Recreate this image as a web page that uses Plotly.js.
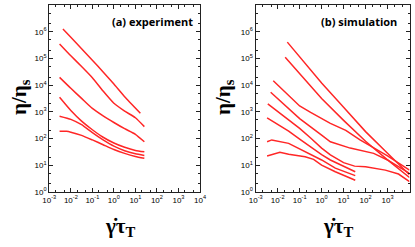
<!DOCTYPE html>
<html><head><meta charset="utf-8">
<script src="https://cdn.plot.ly/plotly-3.0.1.min.js"></script>
<style>html,body{margin:0;padding:0;background:#fff}#chart{width:415px;height:247px}</style>
</head><body><div id="chart"></div>
<script>
// ---- data: (a) experiment ----
const expX1 = [0.0043, 0.01, 0.0316, 0.1, 0.316, 1, 3.16, 17];
const expY1 = [1.26e6, 6.2e5, 2.3e5, 8.6e4, 3.1e4, 1.1e4, 3.7e3, 890];
const expX2 = [0.003, 0.01, 0.0316, 0.1, 0.316, 1, 3.16, 10, 26];
const expY2 = [3.5e5, 1.26e5, 5.0e4, 1.9e4, 6.0e3, 2.1e3, 1.07e3, 600, 280];
const expX3 = [0.003, 0.01, 0.0316, 0.1, 0.316, 1, 3.16, 10, 26];
const expY3 = [1.95e4, 7.6e3, 3.2e3, 1.35e3, 710, 400, 234, 145, 76];
const expX4 = [0.003, 0.01, 0.0316, 0.1, 0.316, 1, 3.16, 10, 26];
const expY4 = [3.5e3, 1.12e3, 450, 214, 112, 68, 47, 36, 32];
const expX5 = [0.003, 0.01, 0.0316, 0.1, 0.316, 1, 3.16, 10, 26];
const expY5 = [690, 525, 330, 166, 89, 52, 35, 27, 23.4];
const expX6 = [0.003, 0.0063, 0.01, 0.0316, 0.1, 0.316, 1, 3.16, 10, 26];
const expY6 = [186, 186, 174, 132, 89, 59, 39, 28, 21.4, 18.2];

// ---- data: (b) simulation ----
const simXA = [0.0275, 0.1, 1, 10, 100, 1000, 10000];
const simYA = [4.07e5, 1.17e5, 1.2e4, 1480, 182, 28, 4.4];
const simXB = [0.022, 0.1, 1, 10, 100, 1000, 10000];
const simYB = [1.1e5, 2.7e4, 3.16e3, 480, 79, 16, 3.5];
const simXC = [0.0063, 0.0316, 0.1, 0.316, 2.5, 12.6, 56, 1000, 10000];
const simYC = [1.45e4, 4.2e3, 1.66e3, 955, 372, 204, 89, 22.4, 6.6];
const simXD = [0.0048, 0.1, 1, 2.5, 20, 234, 1000, 10000];
const simYD = [5.4e3, 560, 135, 76, 44, 28, 15.8, 5.0];
const simXE = [0.00355, 0.0316, 0.1, 0.316, 1, 2.5, 10, 31.6, 100, 794, 3160, 10000];
const simYE = [2000, 500, 240, 105, 44, 24.5, 12.6, 9.3, 8.9, 6.6, 4.7, 2.45];
const simXF = [0.0033, 0.0316, 0.1, 0.316, 1, 2.5, 10, 34];
const simYF = [600, 190, 95, 48, 25, 15.8, 8.9, 5.75];
const simXG = [0.0033, 0.0054, 0.0316, 0.178, 1, 4.2, 34];
const simYG = [76, 89, 66, 32, 15.8, 7.8, 4.1];
const simXH = [0.0033, 0.0126, 0.0316, 0.178, 0.43, 1, 4.2, 34];
const simYH = [22.4, 31, 26, 21, 16.6, 10.2, 5.75, 2.75];

// ---- tick labels ----
const xTickVals = [1e-3, 1e-2, 1e-1, 1, 10, 100, 1000, 10000];
const xTickText = ['10<sup>-3</sup>','10<sup>-2</sup>','10<sup>-1</sup>','10<sup>0</sup>','10<sup>1</sup>','10<sup>2</sup>','10<sup>3</sup>','10<sup>4</sup>'];
const yTickVals = [1, 10, 100, 1e3, 1e4, 1e5, 1e6, 1e7];
const yTickText = ['10<sup>0</sup>','10<sup>1</sup>','10<sup>2</sup>','10<sup>3</sup>','10<sup>4</sup>','10<sup>5</sup>','10<sup>6</sup>','10<sup>7</sup>'];

const RED = 'rgb(255,38,38)';
function tr(x, y, xa, ya, shape) {
  return {x: x, y: y, xaxis: xa, yaxis: ya, mode: 'lines', type: 'scatter',
          line: {color: RED, width: 1.5, shape: shape, smoothing: 0.5}, hoverinfo: 'skip', showlegend: false};
}
const data = [
  tr(expX1, expY1, 'x', 'y', 'spline'), tr(expX2, expY2, 'x', 'y', 'spline'),
  tr(expX3, expY3, 'x', 'y', 'spline'), tr(expX4, expY4, 'x', 'y', 'spline'),
  tr(expX5, expY5, 'x', 'y', 'spline'), tr(expX6, expY6, 'x', 'y', 'spline'),
  tr(simXA, simYA, 'x2', 'y2', 'linear'), tr(simXB, simYB, 'x2', 'y2', 'linear'),
  tr(simXC, simYC, 'x2', 'y2', 'linear'), tr(simXD, simYD, 'x2', 'y2', 'linear'),
  tr(simXE, simYE, 'x2', 'y2', 'linear'), tr(simXF, simYF, 'x2', 'y2', 'linear'),
  tr(simXG, simYG, 'x2', 'y2', 'linear'), tr(simXH, simYH, 'x2', 'y2', 'linear')
];

function minorVals(lo, hi) {
  const v = [];
  for (let e = lo; e < hi; e++) { v.push(2 * Math.pow(10, e)); v.push(5 * Math.pow(10, e)); }
  return v;
}
const tickFont = {family: 'Liberation Sans, Arial, sans-serif', size: 8, color: '#000'};
function axis(domain, vals, text, range, anchor, minor) {
  return {type: 'log', domain: domain, range: range, anchor: anchor,
    tickmode: 'array', tickvals: vals, ticktext: text, tickfont: tickFont,
    ticks: 'inside', ticklen: 4, tickwidth: 1, tickcolor: '#222',
    minor: {tickmode: 'array', tickvals: minor, ticks: 'inside', ticklen: 2, tickwidth: 1, tickcolor: '#222'},
    showline: true, linecolor: '#222', linewidth: 1.2, mirror: 'allticks',
    showgrid: false, zeroline: false, automargin: false};
}
const ydom = [1 - 192/247, 1 - 5/247];
const labelFont = {family: 'Open Sans, sans-serif', size: 11, color: '#000'};
const titleFont = {family: 'Liberation Serif, serif', size: 21, color: '#000'};
const layout = {
  width: 415, height: 247, margin: {l: 0, r: 0, t: 0, b: 0},
  paper_bgcolor: '#fff', plot_bgcolor: '#fff',
  xaxis: axis([49.3/415, 200/415], xTickVals, xTickText, [-3, 4], 'y', minorVals(-3, 4)),
  yaxis: axis(ydom, yTickVals, yTickText, [0, 7], 'x', minorVals(0, 7)),
  xaxis2: axis([255.7/415, 409.5/415], xTickVals, xTickText, [-3, 4], 'y2', minorVals(-3, 4)),
  yaxis2: axis(ydom, yTickVals, yTickText, [0, 7], 'x2', minorVals(0, 7)),
  annotations: [
    {text: '<b>(a) experiment</b>', xref: 'paper', yref: 'paper', x: 195/415, y: 1 - 22/247,
     xanchor: 'right', yanchor: 'middle', showarrow: false, font: labelFont},
    {text: '<b>(b) simulation</b>', xref: 'paper', yref: 'paper', x: 399/415, y: 1 - 21/247,
     xanchor: 'right', yanchor: 'middle', showarrow: false, font: labelFont},
    {text: '<b>η/η<sub>s</sub></b>', xref: 'paper', yref: 'paper', x: 20/415, y: 1 - 97/247, textangle: -90,
     xanchor: 'center', yanchor: 'middle', showarrow: false, font: titleFont},
    {text: '<b>η/η<sub>s</sub></b>', xref: 'paper', yref: 'paper', x: 224/415, y: 1 - 97/247, textangle: -90,
     xanchor: 'center', yanchor: 'middle', showarrow: false, font: titleFont},
    {text: '<b>γ̇τ<sub>T</sub></b>', xref: 'paper', yref: 'paper', x: 120/415, y: 1 - 227/247,
     xanchor: 'center', yanchor: 'middle', showarrow: false, font: titleFont},
    {text: '<b>γ̇τ<sub>T</sub></b>', xref: 'paper', yref: 'paper', x: 338/415, y: 1 - 227/247,
     xanchor: 'center', yanchor: 'middle', showarrow: false, font: titleFont}
  ]
};
Plotly.newPlot('chart', data, layout, {displayModeBar: false, staticPlot: true});
</script></body></html>
